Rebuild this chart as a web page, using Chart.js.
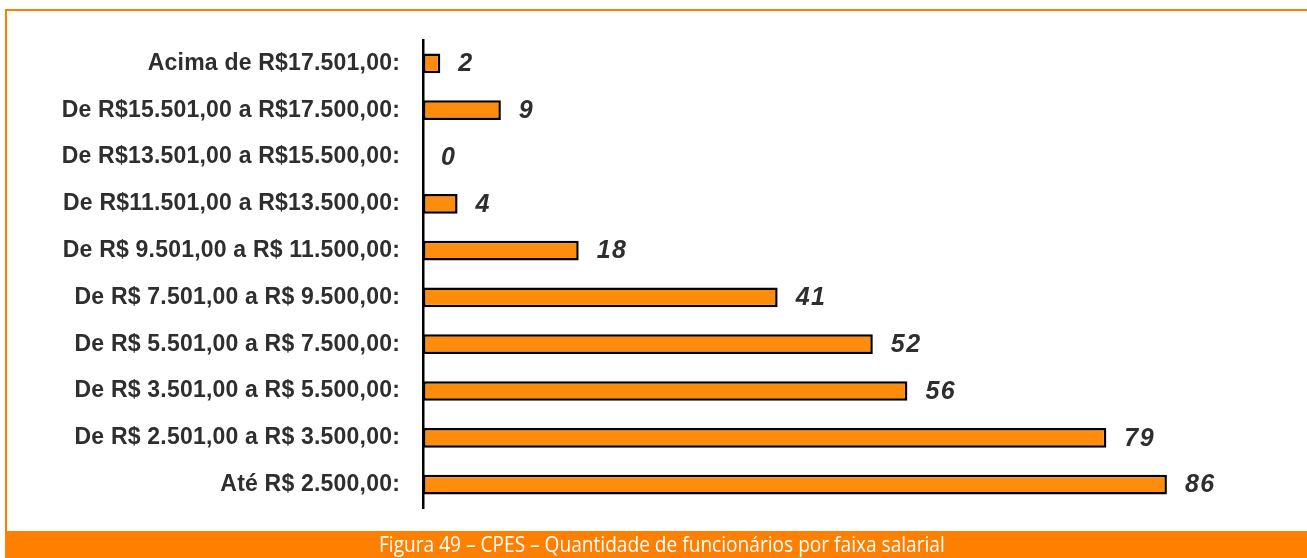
<!DOCTYPE html>
<html>
<head>
<meta charset="utf-8">
<script src="https://cdn.jsdelivr.net/npm/chart.js@4"></script>
<style>
  html, body { margin: 0; padding: 0; background: #fff; }
  body { width: 1307px; height: 558px; position: relative; overflow: hidden; }
  #wrap { position: absolute; left: 0; top: 0; width: 1307px; height: 531px; }
  .frame-top { position: absolute; left: 5px; top: 9px; width: 1302px; height: 2px; background: #ff8000; }
  .frame-left { position: absolute; left: 5px; top: 9px; width: 2px; height: 522px; background: #ff8000; }
  #caption {
    position: absolute; left: 5px; top: 531px; width: 1302px; height: 27px;
    background: #ff7f00; color: #fff; text-align: center; line-height: 27px;
    font-family: "Open Sans", sans-serif; font-size: 21px;
  }
  #caption span { display: inline-block; transform: scaleX(0.91); transform-origin: center; margin-left: 12px; white-space: nowrap; }
</style>
</head>
<body>
<div id="wrap"><canvas id="faixaChart" width="1307" height="531"></canvas></div>
<div class="frame-top"></div>
<div class="frame-left"></div>
<div id="caption"><span>Figura 49 – CPES – Quantidade de funcionários por faixa salarial</span></div>
<script>
// faixas salariais (de cima para baixo) e quantidade de funcionários
const faixas = [
  'Acima de R$17.501,00:',
  'De R$15.501,00 a R$17.500,00:',
  'De R$13.501,00 a R$15.500,00:',
  'De R$11.501,00 a R$13.500,00:',
  'De R$ 9.501,00 a R$ 11.500,00:',
  'De R$ 7.501,00 a R$ 9.500,00:',
  'De R$ 5.501,00 a R$ 7.500,00:',
  'De R$ 3.501,00 a R$ 5.500,00:',
  'De R$ 2.501,00 a R$ 3.500,00:',
  'Até R$ 2.500,00:'
];
const funcionarios = [2, 9, 0, 4, 18, 41, 52, 56, 79, 86];
const eixoMax = 100;

// um pouco de espaço entre as letras dos rótulos do eixo
const espacamento = {
  id: 'espacamento',
  beforeDraw(chart) { chart.ctx.letterSpacing = '0.2px'; },
  afterDraw(chart) { chart.ctx.letterSpacing = '0px'; }
};

// rótulos com o valor à direita de cada barra
const valorLabels = {
  id: 'valorLabels',
  afterDatasetsDraw(chart) {
    const ctx = chart.ctx;
    const meta = chart.getDatasetMeta(0);
    ctx.save();
    ctx.letterSpacing = '1.5px';
    ctx.font = 'italic bold 25px "Liberation Sans", Arial, sans-serif';
    ctx.fillStyle = '#2e2e2e';
    ctx.textAlign = 'left';
    ctx.textBaseline = 'middle';
    meta.data.forEach((bar, i) => {
      ctx.fillText(String(funcionarios[i]), bar.x + 18, bar.y + 1);
    });
    ctx.restore();
  }
};

new Chart(document.getElementById('faixaChart'), {
  type: 'bar',
  data: {
    labels: faixas,
    datasets: [{
      data: funcionarios,
      backgroundColor: '#ff8c0a',
      borderColor: '#000',
      borderWidth: 2.5,
      borderSkipped: false,
      categoryPercentage: 1,
      barPercentage: 0.42
    }]
  },
  options: {
    indexAxis: 'y',
    responsive: false,
    animation: false,
    layout: { padding: { left: 0, right: 19, top: 40, bottom: 23 } },
    plugins: { legend: { display: false }, tooltip: { enabled: false } },
    scales: {
      x: { display: false, min: 0, max: eixoMax },
      y: {
        afterFit(scale) {
          // largura fixa do eixo e sem folga extra em cima/embaixo
          scale.width = 423;
          scale.paddingTop = 0;
          scale.paddingBottom = 0;
        },
        grid: { display: false, drawTicks: false },
        border: { display: true, color: '#000', width: 2.5 },
        ticks: {
          padding: 23,
          color: '#2e2e2e',
          font: { family: '"Liberation Sans", Arial, sans-serif', weight: 'bold', size: 23 }
        }
      }
    }
  },
  plugins: [espacamento, valorLabels]
});
</script>
</body>
</html>
